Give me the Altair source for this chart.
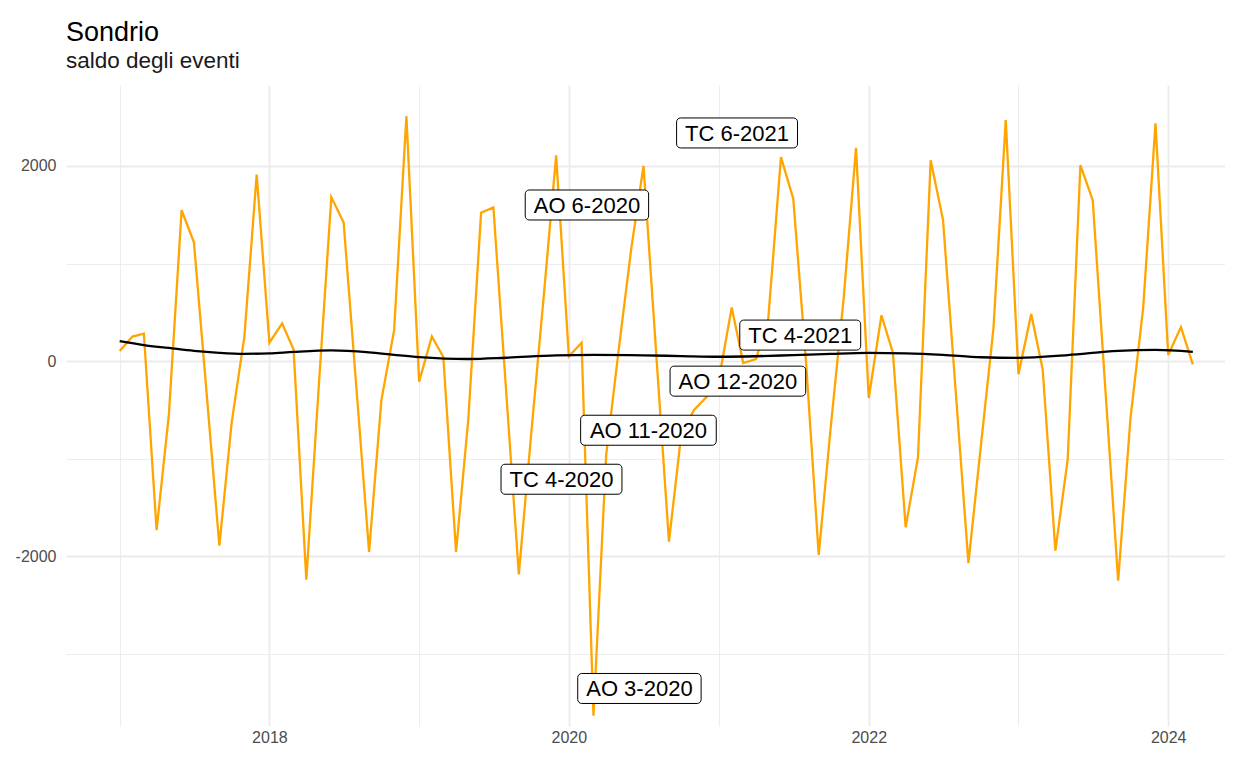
import altair as alt
import pandas as pd

# ---------------- data ----------------
start_year, start_month = 2017, 1
saldo = [105, 252, 282, -1731, -546, 1546, 1218, -330, -1891, -630, 252, 1912,
         189, 387, 118, -2239, -280, 1681, 1420, -270, -1954, -399, 315, 2510,
         -210, 252, 42, -1954, -588, 1521, 1576, -300, -2185, -754, 677, 2109,
         50, 189, -3634, -960, 100, 1150, 2000, 75, -1850, -750, -500, -370,
         -180, 550, -20, 20, 430, 2090, 1665, 0, -1985, -650, 650, 2185,
         -378, 470, 84, -1702, -987, 2059, 1450, -310, -2070, -880, 336, 2470,
         -134, 483, -84, -1941, -1008, 2008, 1650, -300, -2250, -588, 546, 2437,
         63, 349, -34]
dates = [f"{start_year + (i // 12)}-{(i % 12) + 1:02d}-01T00:00:00" for i in range(len(saldo))]

trend_dates = ["2017-01-01", "2017-03-01", "2017-05-01", "2017-07-01", "2017-09-01", "2017-11-01",
               "2018-01-01", "2018-03-01", "2018-06-01", "2018-09-01", "2018-11-01", "2019-01-01",
               "2019-05-01", "2019-08-01", "2019-12-01", "2020-03-01", "2020-07-01", "2020-10-01",
               "2021-01-01", "2021-04-01", "2021-07-01", "2021-10-01", "2022-01-01", "2022-04-01",
               "2022-07-01", "2022-10-01", "2023-01-01", "2023-05-01", "2023-09-01", "2023-12-01",
               "2024-03-01"]
trend_vals = [205, 165, 135, 105, 85, 75, 80, 95, 110, 90, 65, 42, 22, 35, 60, 65, 60, 52,
              45, 50, 62, 75, 84, 80, 65, 40, 34, 62, 105, 115, 95]

label_text = ["TC 6-2021", "AO 6-2020", "TC 4-2021", "AO 12-2020", "AO 11-2020", "TC 4-2020", "AO 3-2020"]
label_date = ["2021-02-14", "2020-02-14", "2021-07-18", "2021-02-16", "2020-07-13", "2019-12-14", "2020-06-21"]
label_y = [2338, 1600, 267, -205, -708, -1210, -3354]

year_ticks = list(range(2017, 2025))
y_ticks = [-3000, -2000, -1000, 0, 1000, 2000]

# ---------------- styling ----------------
FONT = "Liberation Sans"
LABEL_FS = 22
GRID = "#EBEBEB"

df = pd.DataFrame({"data": dates, "saldo": saldo})
tr = pd.DataFrame({"data": [d + "T00:00:00" for d in trend_dates], "saldo": trend_vals})
lab = pd.DataFrame({"label": label_text, "data": [d + "T00:00:00" for d in label_date], "saldo": label_y})

# scale domains
t0 = pd.Timestamp(dates[0]); t1 = pd.Timestamp(dates[-1])
span = t1 - t0
lo = t0 - span * 0.05
hi = t1 + span * 0.03
def dt(ts):
    return alt.DateTime(year=ts.year, month=ts.month, date=ts.day, hours=ts.hour)
ymin, ymax = min(saldo), max(saldo)
yspan = ymax - ymin
ydom = [ymin - 0.017 * yspan, ymax + 0.052 * yspan]

xscale = alt.Scale(domain=[dt(lo), dt(hi)])
yscale = alt.Scale(domain=ydom, nice=False, zero=False)

xaxis = alt.Axis(
    values=[alt.DateTime(year=y, month=1, date=1) for y in year_ticks],
    labelExpr="year(datum.value) % 2 == 0 ? timeFormat(datum.value, '%Y') : ''",
    title=None, ticks=False, domain=False, labelPadding=3,
    labelFont=FONT, labelFontSize=16, labelColor="#4D4D4D",
    grid=True, gridColor=GRID,
    gridWidth={"condition": {"test": "year(datum.value) % 2 == 0", "value": 1.8}, "value": 0.9},
)
yaxis = alt.Axis(
    values=y_ticks,
    labelExpr="datum.value % 2000 == 0 ? '' + datum.value : ''",
    title=None, ticks=False, domain=False, labelPadding=10,
    labelFont=FONT, labelFontSize=16, labelColor="#4D4D4D",
    grid=True, gridColor=GRID,
    gridWidth={"condition": {"test": "datum.value % 2000 == 0", "value": 1.8}, "value": 0.9},
)

X = alt.X("data:T", scale=xscale, axis=xaxis)
Y = alt.Y("saldo:Q", scale=yscale, axis=yaxis)

line = alt.Chart(df).mark_line(color="#FFA500", strokeWidth=2.3).encode(x=X, y=Y)
trend = alt.Chart(tr).mark_line(color="black", strokeWidth=2.3, interpolate="monotone").encode(
    x=alt.X("data:T"), y=alt.Y("saldo:Q"))

# approx Arial widths (per 1000 em) to size label boxes
CW = {"A": 667, "O": 778, "T": 611, "C": 722, " ": 278, "-": 333}
def text_w(s):
    return sum(CW.get(c, 556) for c in s) * LABEL_FS / 1000.0

boxes = []
for t in label_text:
    w = text_w(t) + 17
    b = alt.Chart(lab).transform_filter(alt.datum.label == t).mark_rect(
        fill="white", stroke="black", strokeWidth=1, cornerRadius=4,
        xOffset=-w / 2, x2Offset=w / 2, yOffset=-15, y2Offset=15,
    ).encode(x=alt.X("data:T"), x2="data:T", y=alt.Y("saldo:Q"), y2="saldo:Q")
    boxes.append(b)

texts = alt.Chart(lab).mark_text(font=FONT, fontSize=LABEL_FS, color="black", baseline="middle",
                                 align="center", dy=1).encode(
    x=alt.X("data:T"), y=alt.Y("saldo:Q"), text="label:N")

chart = alt.layer(line, trend, *boxes, texts).properties(
    width=1159, height=641,
    padding={"left": 58, "top": 77, "right": 0, "bottom": 30},
    autosize=alt.AutoSizeParams(type="none"),
    title=alt.TitleParams("Sondrio", subtitle="saldo degli eventi", anchor="start", frame="group",
                          font=FONT, fontSize=27, fontWeight="normal", color="black",
                          subtitleFont=FONT, subtitleFontSize=22.5, subtitleColor="#1a1a1a",
                          subtitlePadding=3, offset=12),
).configure(background="white").configure_view(stroke=None)

chart.save("out.html", embed_options={"renderer": "svg", "actions": False})
